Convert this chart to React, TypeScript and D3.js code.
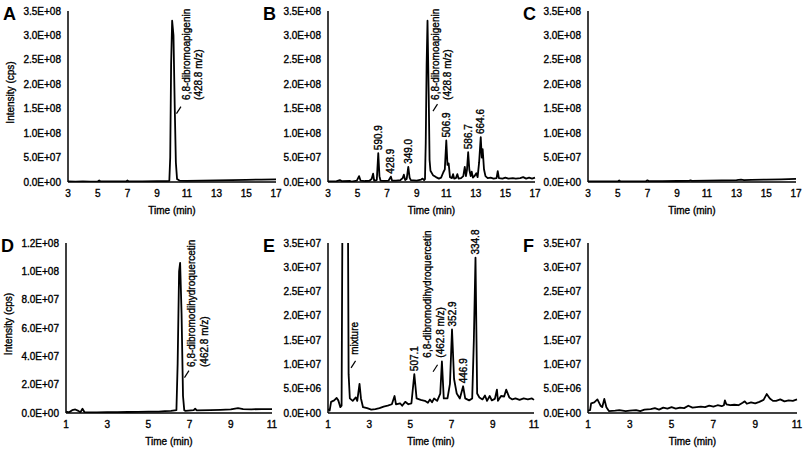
import React from 'react';
import * as d3 from 'd3';

type Pt = [number, number];

// chromatogram traces: [time (min), intensity (cps)]
const traceA: Pt[] = [
  [3.0, 1.0e6], [3.5, 0.8e6], [4.0, 1.0e6], [4.5, 0.8e6], [5.0, 1.0e6], [5.1, 3.0e6], [5.2, 1.0e6],
  [6.0, 1.0e6], [6.9, 1.2e6], [7.0, 3.0e6], [7.1, 1.2e6], [8.0, 1.3e6], [9.0, 1.5e6], [9.6, 1.8e6],
  [9.82, 2.5e6], [9.88, 5.0e7], [9.94, 2.4e8], [10.01, 3.3e8], [10.1, 3.0e8], [10.18, 1.6e8],
  [10.26, 4.0e7], [10.34, 6.0e6], [10.5, 3.0e6], [11.0, 2.5e6], [12.0, 3.0e6], [13.0, 3.5e6],
  [14.0, 4.0e6], [15.0, 4.5e6], [16.0, 5.0e6], [17.0, 5.5e6],
];

const traceB: Pt[] = [
  [3.0, 1e6], [3.5, 1e6], [3.8, 4e6], [3.95, 1.5e6], [4.5, 2e6], [4.6, 1e6], [4.95, 3e6], [5.1, 1.2e7],
  [5.2, 3e6], [5.5, 2e6], [5.8, 2.5e6], [5.95, 6e6], [6.05, 1.7e7], [6.12, 3e6], [6.3, 4e6], [6.4, 5.9e7],
  [6.48, 1.2e7], [6.55, 3e6], [6.8, 2.5e6], [7.1, 3e6], [7.25, 1.1e7], [7.33, 3e6], [7.6, 3e6], [7.9, 4e6],
  [8.05, 8e6], [8.13, 1.5e7], [8.22, 4e6], [8.32, 6e6], [8.43, 3.1e7], [8.52, 9e6], [8.6, 4e6], [9.0, 3e6],
  [9.3, 5e6], [9.4, 7e6], [9.5, 4e6], [9.56, 6e6], [9.61, 8e7], [9.67, 2.4e8], [9.73, 3.3e8], [9.81, 1.8e8],
  [9.87, 4.5e7], [9.93, 2.3e7], [10.1, 1.4e7], [10.3, 1.0e7], [10.5, 7e6], [10.65, 9e6], [10.8, 2e7],
  [10.9, 2.6e7], [11.0, 8.5e7], [11.08, 3.5e7], [11.16, 3.8e7], [11.25, 1.0e7], [11.38, 8e6],
  [11.46, 1.6e7], [11.53, 7e6], [11.65, 8e6], [11.75, 1.6e7], [11.83, 7e6], [12.0, 8e6], [12.15, 1.2e7],
  [12.25, 3.1e7], [12.33, 1.2e7], [12.4, 2.5e7], [12.48, 6.1e7], [12.56, 2.5e7], [12.65, 1.2e7],
  [12.72, 2.1e7], [12.8, 9e6], [12.9, 1.2e7], [13.03, 1.8e7], [13.12, 1.0e7], [13.22, 4e7], [13.33, 9.2e7],
  [13.4, 5e7], [13.46, 6.7e7], [13.55, 2.6e7], [13.65, 1.2e7], [13.8, 8e6], [14.0, 9e6], [14.2, 7e6],
  [14.4, 8e6], [14.48, 2.2e7], [14.56, 8e6], [14.8, 7e6], [15.0, 9e6], [15.2, 7e6], [15.5, 8e6],
  [15.7, 7e6], [16.0, 8e6], [16.2, 1.0e7], [16.4, 7e6], [16.6, 9e6], [16.8, 7e6], [17.0, 9e6],
];

const traceC: Pt[] = [
  [3.0, 1e6], [4.0, 1e6], [5.0, 1e6], [5.1, 3e6], [5.2, 1e6], [6.0, 1.2e6], [6.9, 1.5e6], [7.0, 3.5e6],
  [7.1, 1.5e6], [8.0, 1.8e6], [9.0, 2e6], [9.8, 2.5e6], [9.9, 3.5e6], [10.0, 2.5e6], [11.0, 3e6],
  [12.0, 3.5e6], [13.0, 4e6], [13.3, 5e6], [13.5, 4e6], [14.0, 4.5e6], [15.0, 5e6], [16.0, 5.5e6],
  [16.5, 6e6], [17.0, 6.5e6],
];

const traceD: Pt[] = [
  [1.0, 1e6], [1.15, 5e5], [1.3, 2e6], [1.45, 2.5e6], [1.6, 1.5e6], [1.7, 5e5], [1.8, 3e6], [1.9, 5e5],
  [2.5, 5e5], [3.0, 6e5], [3.5, 6e5], [4.0, 7e5], [4.5, 8e5], [5.0, 9e5], [5.5, 1e6], [5.8, 1.3e6],
  [6.1, 1.5e6], [6.36, 2e6], [6.42, 3.5e7], [6.49, 1.0e8], [6.54, 1.06e8], [6.61, 7e7], [6.68, 1.2e7],
  [6.74, 2e6], [6.8, 1.5e6], [7.2, 2e6], [7.27, 3e6], [7.35, 1.8e6], [8.0, 2e6], [8.5, 2.2e6], [9.0, 2.5e6],
  [9.35, 3.5e6], [9.6, 2.8e6], [10.0, 2.6e6], [10.5, 2.8e6], [11.0, 2.8e6],
];

const traceE: Pt[] = [
  [1.0, 8e5], [1.08, 5e5], [1.15, 2.3e6], [1.3, 2.6e6], [1.42, 3.1e6], [1.5, 2.6e6], [1.6, 1.2e6],
  [1.66, 1.5e6], [1.72, 6e7], [1.95, 6e7], [2.0, 8e6], [2.06, 3e6], [2.2, 2.5e6], [2.35, 3.2e6],
  [2.42, 2.5e6], [2.53, 6e6], [2.6, 3e6], [2.7, 1.2e6], [2.9, 1e6], [3.1, 7e5], [3.3, 8e5], [3.5, 1e6],
  [3.7, 1.3e6], [3.9, 1.5e6], [4.1, 1.8e6], [4.23, 3.5e6], [4.3, 1.8e6], [4.5, 2e6], [4.6, 1.5e6],
  [4.75, 2.3e6], [4.9, 1.8e6], [5.05, 2e6], [5.19, 8e6], [5.3, 3e6], [5.5, 2.7e6], [5.7, 2.5e6],
  [5.85, 2.1e6], [5.95, 2.8e6], [6.05, 2.2e6], [6.15, 3e6], [6.3, 2.5e6], [6.45, 4e6], [6.53, 1.06e7],
  [6.62, 3e6], [6.8, 3e6], [6.92, 6e6], [7.02, 1.72e7], [7.12, 7e6], [7.25, 4e6], [7.4, 3e6],
  [7.56, 5.5e6], [7.66, 3e6], [7.85, 2.6e6], [8.0, 3e6], [8.08, 1.5e7], [8.16, 3.2e7], [8.24, 4e6],
  [8.35, 3.2e6], [8.5, 2.8e6], [8.62, 3.6e6], [8.72, 2.5e6], [8.85, 3.5e6], [8.95, 2.6e6], [9.1, 2.9e6],
  [9.2, 4.8e6], [9.25, 2.5e6], [9.4, 3.5e6], [9.55, 3.4e6], [9.65, 4.8e6], [9.8, 3.2e6], [9.95, 2.8e6],
  [10.1, 3e6], [10.3, 2.7e6], [10.5, 3e6], [10.7, 2.8e6], [10.9, 3e6], [11.0, 2.7e6],
];

const traceF: Pt[] = [
  [1.0, 5e5], [1.1, 6e5], [1.15, 2e6], [1.3, 2.2e6], [1.45, 2.8e6], [1.6, 1.5e6], [1.68, 1.2e6],
  [1.78, 2.9e6], [1.88, 1.2e6], [2.0, 4e5], [2.3, 5e5], [2.5, 6e5], [2.8, 4e5], [3.0, 5e5], [3.3, 6e5],
  [3.5, 4e5], [3.7, 7e5], [4.0, 8e5], [4.2, 1e6], [4.4, 7e5], [4.6, 1.1e6], [4.8, 9e5], [5.0, 1.2e6],
  [5.2, 9e5], [5.4, 1.1e6], [5.6, 1e6], [5.8, 1.5e6], [6.0, 1.1e6], [6.2, 1.2e6], [6.4, 1.3e6],
  [6.6, 1.2e6], [6.8, 1.5e6], [7.0, 1.3e6], [7.2, 1.6e6], [7.4, 1.4e6], [7.5, 1.6e6], [7.55, 2.6e6],
  [7.62, 1.8e6], [7.8, 1.6e6], [8.0, 1.7e6], [8.2, 1.6e6], [8.4, 2.1e6], [8.5, 2.4e6], [8.6, 1.9e6],
  [8.8, 2.2e6], [9.0, 2.0e6], [9.2, 2.3e6], [9.4, 2.7e6], [9.55, 3.9e6], [9.7, 3e6], [9.85, 2.5e6],
  [10.0, 2.5e6], [10.2, 2.8e6], [10.4, 2.4e6], [10.6, 2.6e6], [10.8, 2.5e6], [11.0, 2.8e6],
];

// axis ticks
const xTicksTop = [3, 5, 7, 9, 11, 13, 15, 17];
const xTicksBottom = [1, 3, 5, 7, 9, 11];
const yTicksTop = [0, 5e7, 1e8, 1.5e8, 2e8, 2.5e8, 3e8, 3.5e8];
const yTicksD = [0, 2e7, 4e7, 6e7, 8e7, 1e8, 1.2e8];
const yTicksEF = [0, 5e6, 1e7, 1.5e7, 2e7, 2.5e7, 3e7, 3.5e7];

// peak labels (m/z) placed above the peak apex
const peaksB = [
  { text: '590.9', t: 6.4, v: 5.9e7 },
  { text: '428.9', t: 7.25, v: 1.1e7 },
  { text: '349.0', t: 8.43, v: 3.1e7 },
  { text: '506.9', t: 11.0, v: 8.5e7 },
  { text: '586.7', t: 12.48, v: 6.1e7 },
  { text: '664.6', t: 13.33, v: 9.2e7 },
];
const peaksE = [
  { text: '507.1', t: 5.19, v: 8e6 },
  { text: '352.9', t: 7.02, v: 1.72e7 },
  { text: '446.9', t: 7.56, v: 5.5e6 },
  { text: '334.8', t: 8.16, v: 3.2e7 },
];

// compound labels: text anchor (t, v) and leader start (lt, lv)
const notesA = [{ lines: ['6,8-dibromoapigenin', '(428.8 m/z)'], t: 10.95, v: 1.68e8, lt: 10.3, lv: 1.4e8 }];
const notesB = [{ lines: ['6,8-dibromoapigenin', '(428.8 m/z)'], t: 10.24, v: 1.68e8, lt: 10.1, lv: 1.45e8 }];
const notesD = [{ lines: ['6,8-dibromodihydroquercetin', '(462.8 m/z)'], t: 7.09, v: 3.25e7, lt: 6.75, lv: 2.5e7 }];
const notesE = [
  { lines: ['mixture'], t: 2.31, v: 1.2e7, lt: 2.12, lv: 9.3e6 },
  { lines: ['6,8-dibromodihydroquercetin', '(462.8 m/z)'], t: 5.85, v: 1.14e7, lt: 6.1, lv: 8.5e6 },
];

const FONT = '"Liberation Sans", Arial, sans-serif';

const fmtSci = (v: number) => {
  const [m, e] = v.toExponential(1).split('e');
  const n = +e;
  return `${m}E${n < 0 ? '-' : '+'}${String(Math.abs(n)).padStart(2, '0')}`;
};

function Panel(props: any) {
  const { id, letter, trace, xDomain, xTicks, yMax, yTicks, left, right, top, bottom, peaks = [], notes = [], yTitle } = props;
  const x = d3.scaleLinear().domain(xDomain).range([left, right]);
  const y = d3.scaleLinear().domain([0, yMax]).range([bottom, top]);
  const line = d3.line<Pt>().x(d => x(d[0])).y(d => y(d[1]));

  return (
    <g fontFamily={FONT} fill="#000">
      <clipPath id={`clip-${id}`}>
        <rect x={left} y={top} width={right - left + 2} height={bottom - top} />
      </clipPath>
      <path d={line(trace) || ''} fill="none" stroke="#000" strokeWidth={1.8} strokeLinejoin="round" clipPath={`url(#clip-${id})`} />
      <line x1={left} x2={left} y1={top} y2={bottom} stroke="#000" strokeWidth={1.5} />
      <line x1={left} x2={right} y1={bottom} y2={bottom} stroke="#000" strokeWidth={1.5} />

      <g stroke="#000" strokeWidth={0.35} fontSize={10}>
        {yTicks.map((v: number) => (
          <text key={v} x={left - 7} y={y(v)} dy="0.35em" textAnchor="end">{fmtSci(v)}</text>
        ))}
        {xTicks.map((t: number) => (
          <text key={t} x={x(t)} y={bottom + 15} textAnchor="middle">{t}</text>
        ))}
        <text x={(left + right) / 2} y={bottom + 32} textAnchor="middle">Time (min)</text>
        {yTitle && (
          <text transform={`translate(${left - 54},${(top + bottom) / 2 - 4}) rotate(-90)`} textAnchor="middle">Intensity (cps)</text>
        )}
        {peaks.map((p: any) => (
          <text key={p.text} transform={`translate(${x(p.t)},${y(p.v) - 3}) rotate(-90)`} dy="0.35em">{p.text}</text>
        ))}
        {notes.map((n: any, i: number) => {
          const lx = x(n.lt);
          const ly = y(n.lv);
          return (
            <g key={i}>
              <line x1={lx} y1={ly} x2={lx + 4.5} y2={ly - 7} strokeWidth={1.2} />
              {n.lines.map((s: string, j: number) => (
                <text key={s} transform={`translate(${x(n.t) + j * 12.8},${y(n.v)}) rotate(-90)`} dy="0.35em">{s}</text>
              ))}
            </g>
          );
        })}
      </g>
      <text x={left - 65} y={top + 9} fontSize={18} fontWeight="bold">{letter}</text>
    </g>
  );
}

export default function App() {
  const topRow = { top: 11, bottom: 182 };
  const botRow = { top: 243, bottom: 413 };
  return (
    <svg width={803} height={451} style={{ position: 'absolute', left: 0, top: 0, background: '#fff' }}>
      <Panel id="A" letter="A" trace={traceA} xDomain={[3, 17]} xTicks={xTicksTop} yMax={3.5e8} yTicks={yTicksTop}
        left={68} right={276} {...topRow} notes={notesA} yTitle />
      <Panel id="B" letter="B" trace={traceB} xDomain={[3, 17]} xTicks={xTicksTop} yMax={3.5e8} yTicks={yTicksTop}
        left={328} right={535} {...topRow} peaks={peaksB} notes={notesB} />
      <Panel id="C" letter="C" trace={traceC} xDomain={[3, 17]} xTicks={xTicksTop} yMax={3.5e8} yTicks={yTicksTop}
        left={588} right={796} {...topRow} />
      <Panel id="D" letter="D" trace={traceD} xDomain={[1, 11]} xTicks={xTicksBottom} yMax={1.2e8} yTicks={yTicksD}
        left={66} right={272} {...botRow} notes={notesD} yTitle />
      <Panel id="E" letter="E" trace={traceE} xDomain={[1, 11]} xTicks={xTicksBottom} yMax={3.5e7} yTicks={yTicksEF}
        left={328} right={534} {...botRow} peaks={peaksE} notes={notesE} />
      <Panel id="F" letter="F" trace={traceF} xDomain={[1, 11]} xTicks={xTicksBottom} yMax={3.5e7} yTicks={yTicksEF}
        left={588} right={797} {...botRow} />
    </svg>
  );
}
